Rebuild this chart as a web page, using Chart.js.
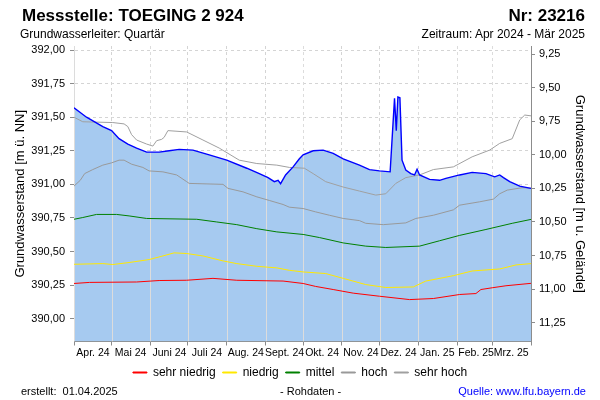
<!DOCTYPE html>
<html lang="de">
<head>
<meta charset="utf-8">
<title>Messstelle TOEGING 2 924</title>
<script src="https://cdn.jsdelivr.net/npm/chart.js@4.4.1/dist/chart.umd.min.js"></script>
<style>
  html, body { margin: 0; padding: 0; background: #fff; }
  #wrap { position: relative; width: 600px; height: 400px; font-family: "Liberation Sans", Arial, sans-serif; color: #000; }
  #wrap canvas { position: absolute; left: 0; top: 0; }
  .txt { position: absolute; line-height: 1; white-space: pre; }
  #titel { left: 22px; top: 7px; font-size: 17px; font-weight: bold; }
  #nr { right: 15px; top: 7px; font-size: 17px; font-weight: bold; }
  #leiter { left: 20px; top: 28px; font-size: 12px; }
  #zeitraum { right: 15px; top: 28px; font-size: 12px; }
  #erstellt { left: 21px; top: 386px; font-size: 11px; }
  #roh { left: 280px; top: 386px; font-size: 11px; }
  #quelle { right: 14px; top: 386px; font-size: 11px; color: #0000ff; }
</style>
</head>
<body>
<div id="wrap">
  <canvas id="gwChart" width="600" height="400"></canvas>
  <div class="txt" id="titel">Messstelle: TOEGING 2 924</div>
  <div class="txt" id="nr">Nr: 23216</div>
  <div class="txt" id="leiter">Grundwasserleiter: Quartär</div>
  <div class="txt" id="zeitraum">Zeitraum: Apr 2024 - Mär 2025</div>
  <div class="txt" id="erstellt">erstellt:  01.04.2025</div>
  <div class="txt" id="roh">- Rohdaten -</div>
  <div class="txt" id="quelle">Quelle: www.lfu.bayern.de</div>
</div>
<script>
// Tage seit 01.04.2024
const monatsAnfang = [0, 30, 61, 91, 122, 153, 183, 214, 244, 275, 306, 334, 365];
const monate = ["Apr. 24", "Mai 24", "Juni 24", "Juli 24", "Aug. 24", "Sept. 24",
  "Okt. 24", "Nov. 24", "Dez. 24", "Jan. 25", "Feb. 25", "Mrz. 25"];

// Achsen
const nnTicks = [390.00, 390.25, 390.50, 390.75, 391.00, 391.25, 391.50, 391.75, 392.00];
const tiefeTicks = [9.25, 9.50, 9.75, 10.00, 10.25, 10.50, 10.75, 11.00, 11.25];
const nnMin = 389.83;
const nnMax = 392.03;
const gelaende = 401.22; // Geländehöhe m ü. NN

// Messwerte (Rohdaten)
const messTage = [0, 5, 10, 23, 30, 36, 43, 50, 58, 68, 76, 84, 95, 108, 122, 138, 148, 155,
  160, 163, 165, 169, 175, 180, 183, 191, 199, 207, 215, 228, 236, 244, 252.5, 256, 257.4,
  258.7, 260.3, 262, 265, 269, 272, 274, 276, 284, 292, 297, 308, 318, 329, 336, 340, 343,
  348, 356, 365];
const messWerte = [391.57, 391.535, 391.50, 391.43, 391.40, 391.34, 391.30, 391.27, 391.24,
  391.24, 391.25, 391.26, 391.255, 391.22, 391.18, 391.12, 391.08, 391.05, 391.02, 391.03,
  391.005, 391.07, 391.13, 391.19, 391.22, 391.25, 391.255, 391.23, 391.19, 391.143, 391.11,
  391.10, 391.093, 391.64, 391.40, 391.65, 391.645, 391.18, 391.106, 391.08, 391.07, 391.113,
  391.07, 391.037, 391.03, 391.044, 391.07, 391.089, 391.08, 391.056, 391.07, 391.05, 391.02,
  390.987, 390.97];

// Statistische Kennlinien
const sehrNiedrigTage = [0, 12.5, 50, 68, 90, 111, 130, 167, 183, 193, 207, 223, 244, 268,
  287, 308, 321, 325, 334, 345, 365];
const sehrNiedrigWerte = [390.262, 390.27, 390.273, 390.284, 390.286, 390.30, 390.286,
  390.28, 390.262, 390.24, 390.217, 390.19, 390.167, 390.142, 390.15, 390.18, 390.187,
  390.217, 390.23, 390.245, 390.263];

const niedrigTage = [0, 23, 31, 44, 60, 71, 80, 90, 103, 119, 130, 146, 162, 172, 183, 201,
  215, 233, 249, 271, 281, 303, 318, 340, 353, 365];
const niedrigWerte = [390.405, 390.41, 390.403, 390.418, 390.44, 390.467, 390.49, 390.485,
  390.467, 390.43, 390.41, 390.39, 390.378, 390.36, 390.348, 390.336, 390.30, 390.254,
  390.232, 390.236, 390.28, 390.32, 390.355, 390.37, 390.40, 390.41];

const mittelTage = [0, 7, 18, 34, 44, 58, 98, 114, 130, 146, 162, 183, 196, 215, 233, 249,
  276, 292, 308, 329, 350, 365];
const mittelWerte = [390.74, 390.753, 390.776, 390.776, 390.765, 390.746, 390.74, 390.72,
  390.70, 390.67, 390.646, 390.627, 390.604, 390.564, 390.54, 390.53, 390.54, 390.58,
  390.62, 390.664, 390.71, 390.739];

const hochTage = [0, 5, 8.5, 15, 23, 30, 36, 40, 46, 55, 60, 71, 82, 90, 92, 119, 123, 135,
  146, 156, 167, 172, 183, 193, 204, 215, 228, 233, 247, 265, 273, 287, 303, 308, 324, 335,
  340, 346, 358, 365];
const hochWerte = [390.987, 391.03, 391.08, 391.11, 391.143, 391.16, 391.18, 391.18, 391.15,
  391.126, 391.10, 391.093, 391.07, 391.02, 391.007, 391.00, 390.97, 390.944, 390.907,
  390.88, 390.85, 390.83, 390.82, 390.795, 390.77, 390.746, 390.73, 390.71, 390.70, 390.713,
  390.746, 390.77, 390.81, 390.845, 390.87, 390.89, 390.93, 390.957, 390.975, 390.972];

const sehrHochTage = [0, 7, 31, 40, 43, 46, 50, 58, 63, 66, 70, 72, 75, 90, 103, 116, 132,
  146, 162, 172, 184, 191, 201, 215, 228, 241, 249, 257, 265, 276, 287, 303, 318, 332, 340,
  350, 356, 360, 365];
const sehrHochWerte = [391.50, 391.466, 391.46, 391.45, 391.43, 391.37, 391.33, 391.30,
  391.285, 391.325, 391.335, 391.35, 391.40, 391.39, 391.33, 391.27, 391.18, 391.155,
  391.143, 391.126, 391.12, 391.08, 391.02, 390.98, 390.95, 390.92, 390.93, 391.007, 391.05,
  391.07, 391.11, 391.13, 391.205, 391.255, 391.305, 391.34, 391.48, 391.516, 391.51];

function punkte(tage, werte) {
  return tage.map((t, i) => ({ x: t, y: werte[i] }));
}

function kennlinie(label, tage, werte, farbe) {
  return {
    label: label,
    data: punkte(tage, werte),
    borderColor: farbe,
    backgroundColor: farbe,
    borderWidth: 1,
    pointRadius: 0,
    fill: false,
  };
}

const komma = (v) => v.toFixed(2).replace(".", ",");

// Monatslinien über der Fläche (unter den Linien)
const monatsLinien = {
  id: "monatsLinien",
  beforeDatasetsDraw(chart) {
    const { ctx, chartArea, scales } = chart;
    ctx.save();
    ctx.beginPath();
    ctx.rect(chartArea.left, chartArea.top, chartArea.width, chartArea.height);
    ctx.clip();
    ctx.globalCompositeOperation = "source-atop";
    ctx.strokeStyle = "#dcdcdc";
    ctx.lineWidth = 1;
    scales.x.ticks.forEach((t) => {
      const px = Math.round(scales.x.getPixelForValue(t.value)) + 0.5;
      ctx.beginPath();
      ctx.moveTo(px, chartArea.top);
      ctx.lineTo(px, chartArea.bottom);
      ctx.stroke();
    });
    ctx.restore();
  },
};

Chart.defaults.font.family = '"Liberation Sans", Arial, sans-serif';
Chart.defaults.color = "#000";

const ctx = document.getElementById("gwChart").getContext("2d");
new Chart(ctx, {
  type: "line",
  data: {
    datasets: [
      {
        label: "Messwerte",
        data: punkte(messTage, messWerte),
        borderColor: "#0000ff",
        backgroundColor: "#a6caf0",
        borderWidth: 1.4,
        pointRadius: 0,
        fill: "start",
      },
      kennlinie("sehr niedrig", sehrNiedrigTage, sehrNiedrigWerte, "#ff0000"),
      kennlinie("niedrig", niedrigTage, niedrigWerte, "#ffe800"),
      kennlinie("mittel", mittelTage, mittelWerte, "#008000"),
      kennlinie("hoch", hochTage, hochWerte, "#999999"),
      kennlinie("sehr hoch", sehrHochTage, sehrHochWerte, "#a0a0a0"),
    ],
  },
  options: {
    responsive: false,
    devicePixelRatio: 1,
    animation: false,
    layout: {
      padding: { top: 46, left: 0, right: 0, bottom: 11.5 },
    },
    plugins: {
      filler: { drawTime: "beforeDatasetsDraw" },
      tooltip: { enabled: false },
      legend: {
        position: "bottom",
        labels: {
          boxWidth: 14,
          boxHeight: 1,
          padding: 7,
          font: { size: 12 },
          filter: (item) => item.datasetIndex > 0,
        },
      },
    },
    scales: {
      x: {
        type: "linear",
        min: 0,
        max: 365,
        afterBuildTicks: (s) => {
          s.ticks = monatsAnfang.map((t) => ({ value: t }));
        },
        afterFit: (s) => {
          s.height = 18;
        },
        ticks: {
          autoSkip: false,
          maxRotation: 0,
          minRotation: 0,
          labelOffset: 19,
          padding: 1,
          font: { size: 10.5 },
          callback: (v, i) => monate[i] || "",
        },
        grid: {
          color: "#d4d4d4",
          tickColor: "#8c8c8c",
          tickLength: 4,
        },
        border: { color: "#8c8c8c", dash: [3, 3] },
      },
      y: {
        position: "left",
        min: nnMin,
        max: nnMax,
        afterBuildTicks: (s) => {
          s.ticks = nnTicks.map((t) => ({ value: t }));
        },
        afterFit: (s) => {
          s.width = 74;
        },
        ticks: {
          padding: 5,
          font: { size: 11 },
          callback: (v) => komma(v),
        },
        grid: {
          color: "#d4d4d4",
          tickColor: "#8c8c8c",
          tickLength: 4,
        },
        border: { color: "#8c8c8c", dash: [3, 3] },
        title: {
          display: true,
          text: "Grundwasserstand [m ü. NN]",
          font: { size: 13 },
          padding: { top: 12.7, bottom: 0 },
        },
      },
      y2: {
        position: "right",
        reverse: true,
        min: gelaende - nnMax,
        max: gelaende - nnMin,
        afterBuildTicks: (s) => {
          s.ticks = tiefeTicks.map((t) => ({ value: t }));
        },
        afterFit: (s) => {
          s.width = 69;
        },
        ticks: {
          padding: 4,
          font: { size: 11 },
          callback: (v) => komma(v),
        },
        grid: {
          drawOnChartArea: false,
          tickColor: "#8c8c8c",
          tickLength: 4,
        },
        border: { color: "#8c8c8c" },
        title: {
          display: true,
          text: "Grundwasserstand [m u. Gelände]",
          font: { size: 13 },
          padding: { top: 12.7, bottom: 0 },
        },
      },
    },
  },
  plugins: [monatsLinien],
});
</script>
</body>
</html>
